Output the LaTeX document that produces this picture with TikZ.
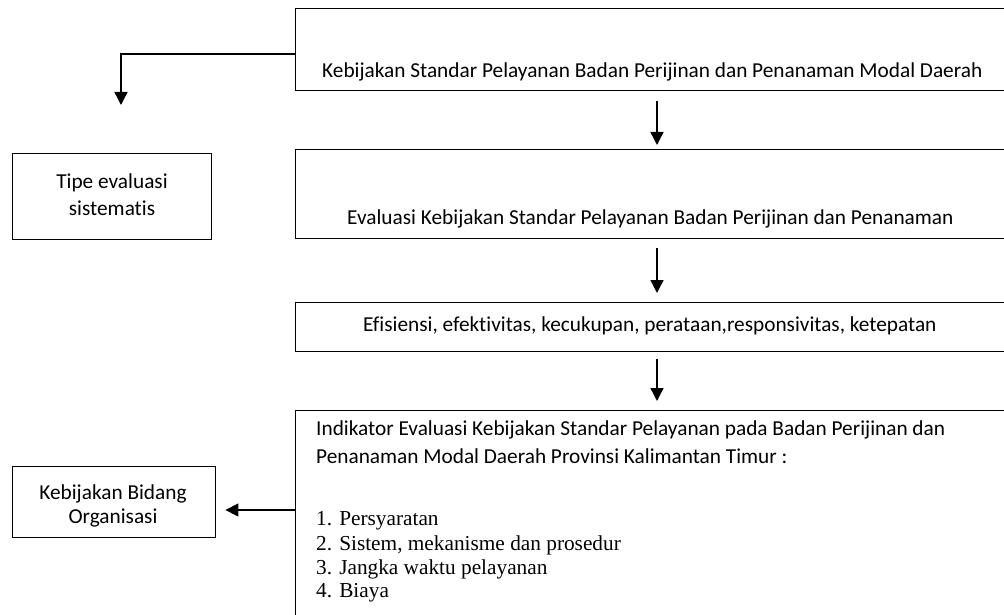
\documentclass[tikz,border=0pt]{standalone}
\usepackage{fontspec}
\setmainfont{Carlito}[Ligatures={NoCommon}]
\newfontfamily\timesf{Liberation Serif}
\usetikzlibrary{arrows.meta}
\tikzset{
  frame/.style={draw, line width=1.4pt, anchor=north west, inner sep=0pt},
  lbl/.style={font=\fontsize{21.3}{25}\selectfont, inner sep=0pt, anchor=west},
  lst/.style={font=\timesf\fontsize{21.3}{25}\selectfont, inner sep=0pt, anchor=west},
  arr/.style={line width=1.4pt, -{Triangle[length=13pt,width=13pt]}},
}
\begin{document}
\begin{tikzpicture}[x=1pt,y=-1pt]
\useasboundingbox (0,0) rectangle (1004,615);
\clip (0,0) rectangle (1004,615);
% main column boxes
\node[frame, minimum width=720pt, minimum height=82pt] (b1) at (295,8) {};
\node[frame, minimum width=720pt, minimum height=89pt] (b2) at (295,149) {};
\node[frame, minimum width=720pt, minimum height=49pt] (b3) at (295,302) {};
\node[frame, minimum width=720pt, minimum height=230pt] (b4) at (295,410) {};
% side boxes
\node[frame, minimum width=199pt, minimum height=86pt] (tp) at (12,153) {};
\node[frame, minimum width=203pt, minimum height=71pt] (kb) at (12,466) {};
% texts
\node[lbl] (t1) at (322,72) {Kebijakan Standar Pelayanan Badan Perijinan dan Penanaman Modal Daerah};
\node[lbl] (t2) at (347,219) {Evaluasi Kebijakan Standar Pelayanan Badan Perijinan dan Penanaman};
\node[lbl] (t3) at (363,326) {Efisiensi, efektivitas, kecukupan, perataan,responsivitas, ketepatan};
\node[lbl] (t4a) at (316,430) {Indikator Evaluasi Kebijakan Standar Pelayanan pada Badan Perijinan dan};
\node[lbl] (t4b) at (316,456) {Penanaman Modal Daerah Provinsi Kalimantan Timur :};
\node[lst] (l1) at (316,521) {1. Persyaratan};
\node[lst] (l2) at (316,545) {2. Sistem, mekanisme dan prosedur};
\node[lst] (l3) at (316,569) {3. Jangka waktu pelayanan};
\node[lst] (l4) at (316,593) {4. Biaya};
\node[lbl, anchor=center] (tpa) at (112,183) {Tipe evaluasi};
\node[lbl, anchor=center] (tpb) at (112,208) {sistematis};
\node[lbl, anchor=center] (kba) at (113,494) {Kebijakan Bidang};
\node[lbl, anchor=center] (kbb) at (113,518) {Organisasi};
% connectors
\coordinate (c1) at (121,54);
\coordinate (c1e) at (121,105);
\draw[arr] (b1.west |- c1) -- (c1) -- (c1e);
\coordinate (ax) at (657,0);
\draw[arr, shorten <=10pt, shorten >=4pt] (b1.south -| ax) -- (b2.north -| ax);
\draw[arr, shorten <=9pt, shorten >=9pt] (b2.south -| ax) -- (b3.north -| ax);
\draw[arr, shorten <=7pt, shorten >=9pt] (b3.south -| ax) -- (b4.north -| ax);
\coordinate (c4) at (0,510);
\draw[arr, shorten >=9pt] (b4.west |- c4) -- (kb.east |- c4);
\end{tikzpicture}
\end{document}
